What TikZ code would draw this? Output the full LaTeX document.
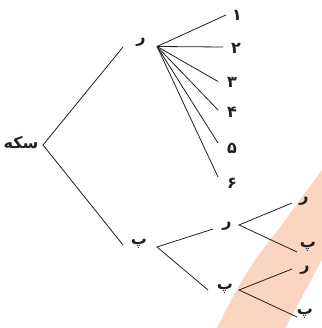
\documentclass[tikz,border=0pt]{standalone}
\usepackage{fontspec}
\newfontfamily\arabicfont[Script=Arabic]{DejaVu Sans}
\TeXXeTstate=1
\definecolor{ink}{HTML}{231F20}
\definecolor{band}{HTML}{F9D5C2}
\begin{document}
\begin{tikzpicture}[x=1pt,y=-1pt,
  lbl/.style={font=\arabicfont\bfseries\fontsize{16}{18}\selectfont, text=ink, inner sep=0pt},
  edge/.style={draw=ink, line width=0.8pt}]
\useasboundingbox (0,0) rectangle (321,328);
% background band
\fill[band] plot[smooth] coordinates {(322,170) (313,182) (280,227) (255,260) (235,293) (216,330)} -- (284,330) -- (322,260) -- cycle;
% labels
\node[lbl] (coin) at (21,143) {\beginR سکه\endR};
\node[lbl] (r1) at (141,42) {\beginR ر\endR};
\node[lbl] (p1) at (139,244) {\beginR پ\endR};
\node[lbl] (d1) at (237,15) {۱};
\node[lbl] (d2) at (236,48) {۲};
\node[lbl] (d3) at (232,82) {۳};
\node[lbl] (d4) at (232,112) {۴};
\node[lbl] (d5) at (232,148) {۵};
\node[lbl] (d6) at (232,183) {۶};
\node[lbl] (r2) at (227,226) {\beginR ر\endR};
\node[lbl] (p2) at (225,289) {\beginR پ\endR};
\node[lbl] (r3) at (304,201) {\beginR ر\endR};
\node[lbl] (p3) at (308,247) {\beginR پ\endR};
\node[lbl] (r4) at (305,270) {\beginR ر\endR};
\node[lbl] (p4) at (305,314) {\beginR پ\endR};
% connector end points
\coordinate (cv) at (43,145);
\coordinate (ra) at (123,47);
\coordinate (pa) at (123,245);
\coordinate (rv) at (157,46.5);
\coordinate (e1) at (226,15);
\coordinate (e2) at (223,47);
\coordinate (e3) at (218,81.5);
\coordinate (e4) at (218,110);
\coordinate (e5) at (218,143);
\coordinate (e6) at (218,177);
\coordinate (pv) at (157,247);
\coordinate (r2a) at (213,229);
\coordinate (p2a) at (208,290);
\coordinate (r2v) at (239,225);
\coordinate (r3a) at (292,203);
\coordinate (p3a) at (297,252);
\coordinate (p2v) at (239,290);
\coordinate (r4a) at (292,269);
\coordinate (p4a) at (297,317);
% connectors
\draw[edge] (ra) -- (cv) -- (pa);
\foreach \e in {e1,e2,e3,e4,e5,e6} \draw[edge] (rv) -- (\e);
\draw[edge] (r2a) -- (pv) -- (p2a);
\draw[edge] (r3a) -- (r2v) -- (p3a);
\draw[edge] (r4a) -- (p2v) -- (p4a);
\end{tikzpicture}
\end{document}
